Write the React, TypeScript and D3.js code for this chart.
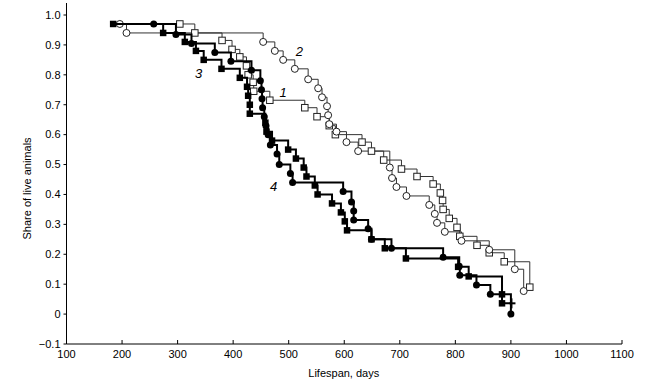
import React from "react";
import * as d3 from "d3";

const W = 648;
const H = 381;

// X ticks (days) and Y ticks (share)
const xTicks = [100, 200, 300, 400, 500, 600, 700, 800, 900, 1000, 1100];
const yTicks = [1.0, 0.9, 0.8, 0.7, 0.6, 0.5, 0.4, 0.3, 0.2, 0.1, 0, -0.1];

// Series 1: open squares
const s1Days = [304, 331, 380, 398, 412, 424, 427, 436, 437, 466, 529, 551, 573, 584, 632, 649, 671, 703, 731, 760, 773, 777, 778, 789, 803, 808, 839, 861, 888, 934];
const s1Surv = [0.97, 0.94, 0.915, 0.885, 0.86, 0.83, 0.8, 0.775, 0.745, 0.715, 0.69, 0.66, 0.63, 0.6, 0.575, 0.545, 0.515, 0.485, 0.46, 0.435, 0.405, 0.38, 0.35, 0.32, 0.29, 0.26, 0.23, 0.205, 0.175, 0.09];

// Series 2: open circles
const s2Days = [196, 208, 454, 475, 490, 511, 535, 553, 560, 569, 571, 573, 586, 604, 625, 682, 686, 694, 712, 753, 763, 767, 781, 811, 861, 907, 923];
const s2Surv = [0.97, 0.94, 0.91, 0.88, 0.85, 0.82, 0.785, 0.755, 0.725, 0.695, 0.665, 0.635, 0.61, 0.575, 0.545, 0.49, 0.455, 0.425, 0.395, 0.365, 0.335, 0.305, 0.275, 0.245, 0.215, 0.15, 0.077];

// Series 3: filled squares (ends censored)
const s3Days = [184, 274, 313, 333, 347, 379, 412, 425, 427, 430, 430, 458, 460, 470, 499, 513, 527, 532, 547, 552, 578, 594, 601, 605, 649, 673, 711, 805, 824, 884, 884];
const s3Surv = [0.97, 0.94, 0.91, 0.88, 0.85, 0.82, 0.79, 0.76, 0.73, 0.7, 0.67, 0.64, 0.61, 0.58, 0.55, 0.52, 0.49, 0.46, 0.43, 0.4, 0.37, 0.34, 0.31, 0.28, 0.25, 0.22, 0.186, 0.158, 0.126, 0.066, 0.036];
const s3CensorDay = 901;

// Series 4: filled circles
const s4Days = [257, 297, 325, 367, 396, 433, 449, 451, 452, 453, 456, 459, 463, 467, 479, 483, 503, 507, 598, 613, 617, 617, 643, 649, 685, 778, 807, 808, 838, 863, 900];
const s4Surv = [0.97, 0.935, 0.905, 0.875, 0.845, 0.815, 0.78, 0.75, 0.72, 0.69, 0.66, 0.63, 0.6, 0.565, 0.535, 0.5, 0.47, 0.44, 0.41, 0.375, 0.345, 0.315, 0.285, 0.25, 0.22, 0.19, 0.16, 0.13, 0.097, 0.066, 0];

// Curve labels
const labelNames = ["1", "2", "3", "4"];
const labelDays = [490, 519, 338, 473];
const labelSurv = [0.742, 0.878, 0.806, 0.428];

const x = d3.scaleLinear().domain([100, 1100]).range([66.5, 622]);
const y = d3.scaleLinear().domain([-0.1, 1.0]).range([344, 15]);

const zip = (a: number[], b: number[]) => a.map((d, i) => [d, b[i]] as [number, number]);

const stepLine = d3
  .line<[number, number]>()
  .x((d) => x(d[0]))
  .y((d) => y(d[1]))
  .curve(d3.curveStepAfter);

const FONT = "'Liberation Sans', Arial, Helvetica, sans-serif";

export default function App() {
  const p1 = zip(s1Days, s1Surv);
  const p2 = zip(s2Days, s2Surv);
  const p3 = zip(s3Days, s3Surv);
  const p4 = zip(s4Days, s4Surv);
  const p3line = [...p3, [s3CensorDay, s3Surv[s3Surv.length - 1]] as [number, number]];
  const ms = 6.5; // marker size
  const r = 3.5;
  const cx = x(s3CensorDay);
  const cy = y(s3Surv[s3Surv.length - 1]);

  return (
    <svg
      width={W}
      height={H}
      style={{ position: "absolute", left: 0, top: 0, background: "#fff" }}
      fontFamily={FONT}
    >
      {/* axes */}
      <line x1={x(100)} x2={x(100)} y1={3} y2={y(-0.1)} stroke="#000" strokeWidth={1} />
      <line x1={x(100)} x2={x(1100)} y1={y(-0.1)} y2={y(-0.1)} stroke="#000" strokeWidth={1} />
      {yTicks.map((t) => (
        <g key={"y" + t}>
          <line x1={x(100) - 3} x2={x(100)} y1={y(t)} y2={y(t)} stroke="#000" />
          <text x={x(100) - 6} y={y(t)} dy="0.35em" textAnchor="end" fontSize={11}>
            {t === 0 ? "0" : t < 0 ? "\u22120.1" : t.toFixed(1)}
          </text>
        </g>
      ))}
      {xTicks.map((t) => (
        <g key={"x" + t}>
          <line x1={x(t)} x2={x(t)} y1={y(-0.1)} y2={y(-0.1) - 4} stroke="#000" />
          <text x={x(t)} y={y(-0.1) + 14} textAnchor="middle" fontSize={11}>
            {t}
          </text>
        </g>
      ))}
      <text x={x(600) - 0.5} y={377} textAnchor="middle" fontSize={11}>
        Lifespan, days
      </text>
      <text
        transform={`translate(31, ${y(0.42)}) rotate(-90)`}
        textAnchor="middle"
        fontSize={11}
      >
        Share of live animals
      </text>

      {/* thin open series */}
      <path d={stepLine(p1) || ""} fill="none" stroke="#333" strokeWidth={1} />
      <path d={stepLine(p2) || ""} fill="none" stroke="#333" strokeWidth={1} />
      {p1.map((d, i) => (
        <rect
          key={"a" + i}
          x={x(d[0]) - ms / 2}
          y={y(d[1]) - ms / 2}
          width={ms}
          height={ms}
          fill="#fff"
          stroke="#222"
          strokeWidth={1}
        />
      ))}
      {p2.map((d, i) => (
        <circle key={"b" + i} cx={x(d[0])} cy={y(d[1])} r={r} fill="#fff" stroke="#222" strokeWidth={1} />
      ))}

      {/* thick filled series */}
      <path d={stepLine(p3line) || ""} fill="none" stroke="#000" strokeWidth={2} />
      <path d={stepLine(p4) || ""} fill="none" stroke="#000" strokeWidth={2} />
      {p3.map((d, i) => (
        <rect
          key={"c" + i}
          x={x(d[0]) - ms / 2}
          y={y(d[1]) - ms / 2}
          width={ms}
          height={ms}
          fill="#000"
        />
      ))}
      {p4.map((d, i) => (
        <circle key={"d" + i} cx={x(d[0])} cy={y(d[1])} r={r} fill="#000" />
      ))}
      {/* censor mark */}
      <line x1={cx} x2={cx} y1={cy - 5} y2={cy + 5} stroke="#000" strokeWidth={2} />
      <line x1={cx - 2} x2={cx + 4} y1={cy} y2={cy} stroke="#000" strokeWidth={2} />

      {/* curve labels */}
      {labelNames.map((n, i) => (
        <text
          key={"l" + n}
          x={x(labelDays[i])}
          y={y(labelSurv[i])}
          dy="0.35em"
          textAnchor="middle"
          fontSize={13}
          fontStyle="italic"
        >
          {n}
        </text>
      ))}
    </svg>
  );
}
